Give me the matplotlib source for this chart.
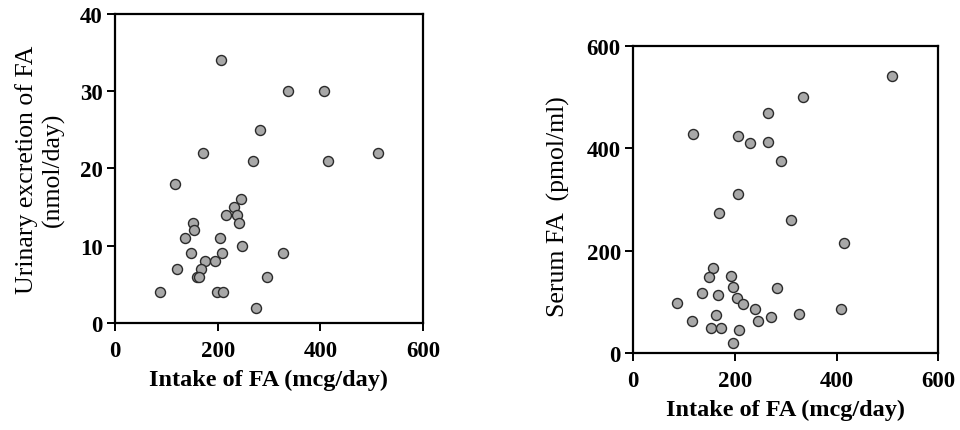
import matplotlib

matplotlib.use('Agg')
import matplotlib.pyplot as plt

# intake of folic acid (mcg/day) vs urinary excretion (nmol/day)
intake_urine = [207, 337, 408, 283, 171, 268, 415, 512, 117, 245, 231, 216, 237, 242, 151,
                154, 136, 204, 248, 149, 208, 327, 175, 195, 121, 167, 159, 164, 296, 87,
                198, 210, 275]
urine_fa = [34, 30, 30, 25, 22, 21, 21, 22, 18, 16, 15, 14, 14, 13, 13,
            12, 11, 11, 10, 9, 9, 9, 8, 8, 7, 7, 6, 6, 6, 4,
            4, 4, 2]

# intake of folic acid (mcg/day) vs serum FA (pmol/ml)
intake_serum = [509, 334, 265, 118, 205, 229, 264, 291, 206, 169, 311, 414, 156, 148, 192,
                196, 282, 135, 166, 203, 215, 85, 240, 408, 325, 163, 271, 116, 245, 152,
                173, 208, 196]
serum_fa = [540, 499, 469, 428, 423, 410, 411, 374, 311, 274, 260, 214, 166, 149, 151,
            129, 126, 117, 113, 108, 95, 97, 86, 86, 77, 75, 70, 63, 63, 49,
            49, 44, 20]

x_ticks = [0, 200, 400, 600]
urine_ticks = [0, 10, 20, 30, 40]
serum_ticks = [0, 200, 400, 600]

plt.rcParams['font.family'] = ['Liberation Serif', 'DejaVu Serif']

fig = plt.figure(figsize=(9.6, 4.31), dpi=100)
ax1 = fig.add_axes([0.1198, 0.2483, 0.3208, 0.7169])
ax2 = fig.add_axes([0.6597, 0.1787, 0.3177, 0.713])


def style_axes(ax, yticks):
    ax.set_xlim(0, 600)
    ax.set_ylim(yticks[0], yticks[-1])
    ax.set_xticks(x_ticks)
    ax.set_yticks(yticks)
    for s in ax.spines.values():
        s.set_linewidth(1.6)
    ax.tick_params(direction='out', length=6, width=1.4, labelsize=16.5)
    ax.tick_params(axis='x', pad=6)
    ax.tick_params(axis='y', pad=3)
    for lbl in ax.get_xticklabels() + ax.get_yticklabels():
        lbl.set_fontweight('bold')
    ax.set_xlabel('Intake of FA (mcg/day)', fontsize=17.5, fontweight='bold', labelpad=6)


ax1.scatter(intake_urine, urine_fa, s=52, c='#a8a8a8', edgecolors='#2a2a2a',
            linewidths=1.0, zorder=3, clip_on=False)
style_axes(ax1, urine_ticks)
ax1.set_ylabel('Urinary excretion of FA\n(nmol/day)', fontsize=18.5, linespacing=1.25)
ax1.yaxis.set_label_coords(-0.162, 0.5)

ax2.scatter(intake_serum, serum_fa, s=52, c='#a8a8a8', edgecolors='#2a2a2a',
            linewidths=1.0, zorder=3, clip_on=False)
style_axes(ax2, serum_ticks)
ax2.set_ylabel('Serum FA  (pmol/ml)', fontsize=18.5)
ax2.yaxis.set_label_coords(-0.2075, 0.48)

plt.savefig('out.png', dpi=100)
plt.close()
